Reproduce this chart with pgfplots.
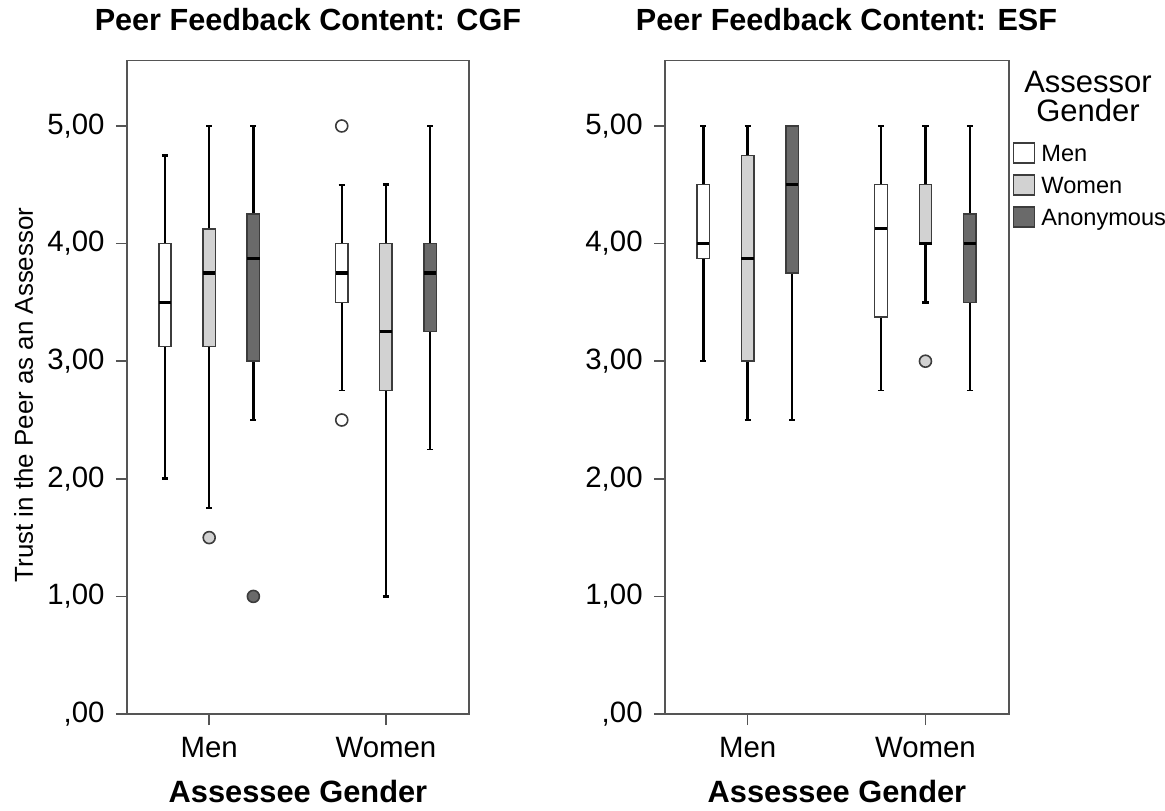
\documentclass[border=0pt]{standalone}
\usepackage{fontspec}
\setmainfont{Liberation Sans}
\usepackage{pgfplots}
\pgfplotsset{compat=1.18}
\usepgfplotslibrary{statistics}
\definecolor{lgray}{HTML}{D2D2D2}
\definecolor{dgray}{HTML}{6A6A6A}
\definecolor{edge}{HTML}{3C3C3C}
\definecolor{frame}{HTML}{555555}
\pgfplotsset{
  panel/.style={scale only axis, height=326.65pt, anchor=south west,
    xmin=0.535, xmax=2.47, ymin=0, ymax=5.555,
    xtick={1,2}, xticklabels={Men,Women},
    ytick={0,1,2,3,4,5}, yticklabels={{,00},{1,00},{2,00},{3,00},{4,00},{5,00}},
    tick align=outside, tick pos=left, major tick length=5.5pt,
    axis line style={draw=frame, line width=0.8pt},
    tick style={draw=frame, line width=0.8pt},
    ticklabel style={font=\fontsize{14.7}{17}\selectfont},
    yticklabel style={inner xsep=5.5pt},
    xticklabel style={yshift=-2.5pt},
    title style={font=\fontsize{15.3}{18}\selectfont\bfseries, anchor=base},
    xlabel style={font=\fontsize{15.4}{18}\selectfont\bfseries, at={(axis description cs:0.5,-0.1362)}, anchor=base},
    /pgfplots/boxplot/draw direction=y,
    /pgfplots/boxplot/box extend=0.07, /pgfplots/boxplot/whisker extend=0.035,
    /pgfplots/boxplot/every median/.style={draw=black, line width=1.6pt},
  },
  bW/.style={forget plot, draw=edge, line width=0.7pt, fill=white, mark=*, mark size=3pt,
    mark options={fill=white, draw=edge, line width=0.8pt, solid}},
  bG/.style={forget plot, draw=edge, line width=0.7pt, fill=lgray, mark=*, mark size=3pt,
    mark options={fill=lgray, draw=edge, line width=0.8pt, solid}},
  bD/.style={forget plot, draw=edge, line width=0.7pt, fill=dgray, mark=*, mark size=3pt,
    mark options={fill=dgray, draw=edge, line width=0.8pt, solid}},
  thk/.style={/pgfplots/boxplot/every whisker/.style={draw=black, line width=1.3pt}},
  thn/.style={/pgfplots/boxplot/every whisker/.style={draw=black, line width=0.8pt}},
  legimg/.style={legend image code/.code={\draw[##1] (0pt,-5pt) rectangle (10.5pt,5pt);}, draw=edge, line width=0.7pt},
}
\begin{document}
\begin{tikzpicture}
\useasboundingbox (0,0) rectangle (582.5pt,405pt);
% ---------------- Left panel: CGF ----------------
\begin{axis}[panel, at={(63.5pt,48pt)}, width=171pt,
  title={Peer Feedback Content: CGF},
  title style={at={(axis description cs:0.529,1.0271)}},
  xlabel={Assessee Gender},
  ylabel={Trust in the Peer as an Assessor},
  ylabel style={font=\fontsize{12.95}{15}\selectfont, at={(axis description cs:-0.2749,0.4883)}, anchor=base}]
% Assessee Men
\addplot[bW, thk, boxplot prepared={draw position=0.75, lower whisker=2, lower quartile=3.125, median=3.5, upper quartile=4, upper whisker=4.75}] coordinates {};
\addplot[bG, thn, boxplot prepared={draw position=1, lower whisker=1.75, lower quartile=3.125, median=3.75, upper quartile=4.125, upper whisker=5}] table[row sep=\\, y index=0] {y\\ 1.5\\};
\addplot[bD, thk, boxplot prepared={draw position=1.25, lower whisker=2.5, lower quartile=3, median=3.875, upper quartile=4.25, upper whisker=5}] table[row sep=\\, y index=0] {y\\ 1.0\\};
% Assessee Women
\addplot[bW, thn, boxplot prepared={draw position=1.75, lower whisker=2.75, lower quartile=3.5, median=3.75, upper quartile=4, upper whisker=4.5}] table[row sep=\\, y index=0] {y\\ 5.0\\ 2.5\\};
\addplot[bG, thk, boxplot prepared={draw position=2, lower whisker=1, lower quartile=2.75, median=3.25, upper quartile=4, upper whisker=4.5}] coordinates {};
\addplot[bD, thn, boxplot prepared={draw position=2.25, lower whisker=2.25, lower quartile=3.25, median=3.75, upper quartile=4, upper whisker=5}] coordinates {};
\end{axis}
% ---------------- Right panel: ESF ----------------
\begin{axis}[panel, at={(332.5pt,48pt)}, width=172pt,
  title={Peer Feedback Content: ESF},
  title style={at={(axis description cs:0.5276,1.0271)}},
  xlabel={Assessee Gender},
  legend cell align=left,
  legend style={at={(axis description cs:1.0116,0.8832)}, anchor=north west, draw=none, fill=none,
    inner sep=0pt, outer sep=0pt, row sep=0pt,
    nodes={font=\fontsize{11.8}{14}\selectfont, inner xsep=3pt, inner ysep=0pt, minimum height=16pt, text height=8.5pt, text depth=0pt}}]
% Assessee Men
\addplot[bW, thk, boxplot prepared={draw position=0.75, lower whisker=3, lower quartile=3.875, median=4, upper quartile=4.5, upper whisker=5}] coordinates {};
\addplot[bG, thk, boxplot prepared={draw position=1, lower whisker=2.5, lower quartile=3, median=3.875, upper quartile=4.75, upper whisker=5}] coordinates {};
\addplot[bD, thk, boxplot prepared={draw position=1.25, lower whisker=2.5, lower quartile=3.75, median=4.5, upper quartile=5, upper whisker=5}] coordinates {};
% Assessee Women
\addplot[bW, thn, boxplot prepared={draw position=1.75, lower whisker=2.75, lower quartile=3.375, median=4.125, upper quartile=4.5, upper whisker=5}] coordinates {};
\addplot[bG, thk, boxplot prepared={draw position=2, lower whisker=3.5, lower quartile=4, median=4, upper quartile=4.5, upper whisker=5}] table[row sep=\\, y index=0] {y\\ 3.0\\};
\addplot[bD, thn, boxplot prepared={draw position=2.25, lower whisker=2.75, lower quartile=3.5, median=4, upper quartile=4.25, upper whisker=5}] coordinates {};
% legend
\addlegendimage{legimg, fill=white}
\addlegendentry{Men}
\addlegendimage{legimg, fill=lgray}
\addlegendentry{Women}
\addlegendimage{legimg, fill=dgray}
\addlegendentry{Anonymous}
\end{axis}
\node[font=\fontsize{15.5}{18}\selectfont, anchor=base, inner sep=0pt] at (544pt,358.5pt) {Assessor};
\node[font=\fontsize{15.5}{18}\selectfont, anchor=base, inner sep=0pt] at (544pt,344pt) {Gender};
\end{tikzpicture}
\end{document}
